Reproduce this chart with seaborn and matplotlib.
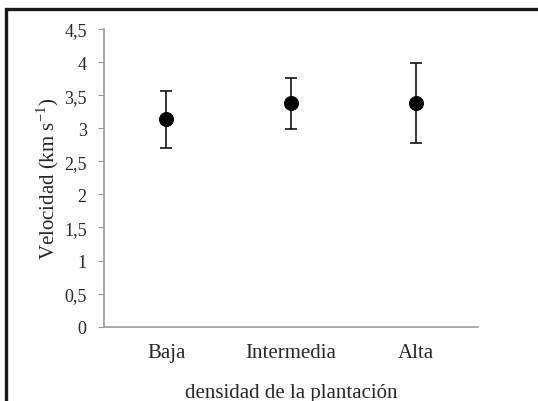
import numpy as np
import pandas as pd
import matplotlib.pyplot as plt
import seaborn as sns
from matplotlib.patches import Rectangle

categories = ['Baja', 'Intermedia', 'Alta']
means = [3.14, 3.38, 3.38]
lower = [2.70, 2.99, 2.78]
upper = [3.57, 3.76, 3.99]
yticks = [0, 0.5, 1, 1.5, 2, 2.5, 3, 3.5, 4, 4.5]
ytick_labels = ['0', '0,5', '1', '1,5', '2', '2,5', '3', '3,5', '4', '4,5']

sns.set_style('white')
plt.rcParams['font.family'] = ['Liberation Serif', 'DejaVu Serif']
plt.rcParams['mathtext.fontset'] = 'custom'
plt.rcParams['mathtext.rm'] = 'Liberation Serif'

df = pd.DataFrame({'densidad': categories, 'vel': means})
yerr = np.array([np.subtract(means, lower), np.subtract(upper, means)])

fig = plt.figure(figsize=(5.38, 4.02), dpi=100)
ax = fig.add_axes([104 / 538, (402 - 327.7) / 402, 374 / 538, (327.7 - 30) / 402])

ax.errorbar(df['densidad'], df['vel'], yerr=yerr, fmt='none', ecolor='black',
            elinewidth=1.1, capsize=4, capthick=1.1, zorder=2)
sns.scatterplot(data=df, x='densidad', y='vel', color='black', s=100,
                edgecolor='black', ax=ax, zorder=3)

ax.set_xlim(-0.5, 2.5)
ax.set_ylim(0, 4.5)
ax.set_yticks(yticks)
ax.set_yticklabels(ytick_labels, fontsize=13)
ax.tick_params(axis='y', length=4.5, width=0.8, color='#999999', pad=8, direction='out', left=True)
ax.tick_params(axis='x', length=0, labelsize=15, pad=12)
ax.set_ylabel('Velocidad (km s$^{\\mathrm{-1}}$)', fontsize=15, labelpad=2)
ax.set_xlabel('densidad de la plantación', fontsize=15, labelpad=15)

sns.despine(ax=ax)
for side in ['left', 'bottom']:
    ax.spines[side].set_color('#999999')
    ax.spines[side].set_linewidth(1.2)

fig.patches.append(Rectangle((6 / 538, -0.1), 1.2, 1.1 - 10 / 402, transform=fig.transFigure,
                             fill=False, edgecolor='#1a1a1a', linewidth=2.4))

fig.savefig('out.png', dpi=100)
